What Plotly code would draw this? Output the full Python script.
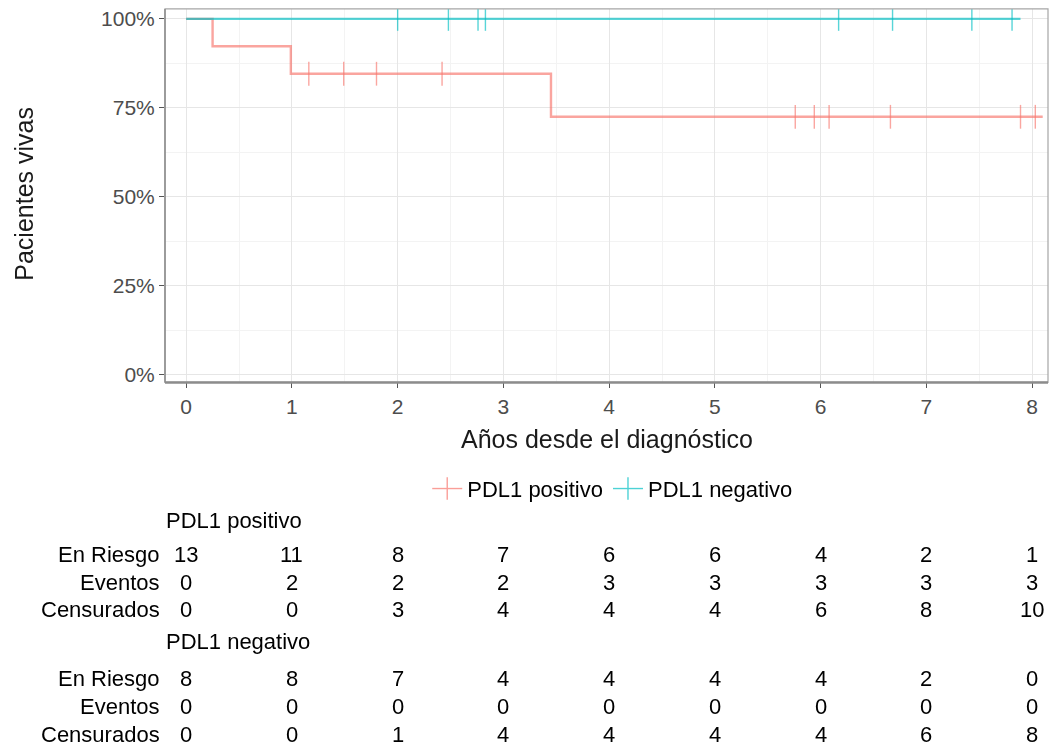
import plotly.graph_objects as go

# Kaplan-Meier step curves (time in years, survival proportion)
pos_times = [0.0, 0.25, 0.99, 3.45, 8.10]
pos_surv = [1.0, 0.923, 0.846, 0.725, 0.725]
neg_times = [0.0, 7.89]
neg_surv = [1.0, 1.0]

# Censoring times
pos_censor = [1.16, 1.49, 1.80, 2.42, 5.76, 5.94, 6.08, 6.66, 7.89, 8.03]
neg_censor = [2.00, 2.48, 2.76, 2.83, 6.17, 6.68, 7.43, 7.81]

# Risk table
table_times = [0, 1, 2, 3, 4, 5, 6, 7, 8]
pos_risk = [13, 11, 8, 7, 6, 6, 4, 2, 1]
pos_events = [0, 2, 2, 2, 3, 3, 3, 3, 3]
pos_cens = [0, 0, 3, 4, 4, 4, 6, 8, 10]
neg_risk = [8, 8, 7, 4, 4, 4, 4, 2, 0]
neg_events = [0, 0, 0, 0, 0, 0, 0, 0, 0]
neg_cens = [0, 0, 1, 4, 4, 4, 4, 6, 8]

group_names = ["PDL1 positivo", "PDL1 negativo"]
row_names = ["En Riesgo", "Eventos", "Censurados"]
y_ticks = [0, 0.25, 0.5, 0.75, 1.0]

RED = "#F8766D"
CYAN = "#00BFC4"
FONT = "Liberation Sans, Arial, sans-serif"
W, H = 1051, 751
TXT = 22


def step_value(times, surv, t):
    v = surv[0]
    for tt, s in zip(times, surv):
        if tt <= t:
            v = s
    return v


fig = go.Figure()

for name, times, surv, cens, col in [
    (group_names[0], pos_times, pos_surv, pos_censor, RED),
    (group_names[1], neg_times, neg_surv, neg_censor, CYAN),
]:
    fig.add_trace(go.Scatter(
        x=times, y=surv, mode="lines", line=dict(color=col, width=2.4, shape="hv"),
        opacity=0.65, showlegend=False, hoverinfo="skip"))
    fig.add_trace(go.Scatter(
        x=cens, y=[step_value(times, surv, c) for c in cens], mode="markers",
        marker=dict(symbol="line-ns", size=17, line=dict(color=col, width=1.4)),
        opacity=0.65, showlegend=False, hoverinfo="skip"))
    # legend entry: line with a cross marker
    fig.add_trace(go.Scatter(
        x=[None], y=[None], mode="lines+markers", name=name,
        line=dict(color=col, width=1.4),
        marker=dict(symbol="line-ns", size=17, line=dict(color=col, width=1.4)),
        opacity=0.7))

x0, x1 = 165 / W, 1048 / W
y0, y1 = 1 - 383 / H, 1 - 7 / H

fig.update_layout(
    width=W, height=H, margin=dict(l=0, r=0, t=0, b=0),
    paper_bgcolor="white", plot_bgcolor="white",
    font=dict(family=FONT, size=TXT, color="#000000"),
    xaxis=dict(
        domain=[x0, x1], range=[-0.2, 8.15], tickvals=table_times,
        ticks="outside", ticklen=5, tickcolor="#555555",
        tickfont=dict(size=21, color="#4D4D4D"),
        showgrid=True, gridcolor="#E6E6E6", gridwidth=1,
        minor=dict(dtick=0.5, tick0=0, showgrid=True, gridcolor="#F3F3F3", gridwidth=1),
        zeroline=False, showline=False,
    ),
    yaxis=dict(
        domain=[y0, y1], range=[-0.022, 1.028], tickvals=y_ticks,
        ticktext=[f"{int(v*100)}%" for v in y_ticks],
        ticks="outside", ticklen=5, tickcolor="#555555",
        tickfont=dict(size=21, color="#4D4D4D"),
        showgrid=True, gridcolor="#E6E6E6", gridwidth=1,
        minor=dict(dtick=0.125, tick0=0, showgrid=True, gridcolor="#F3F3F3", gridwidth=1),
        zeroline=False, showline=False,
    ),
    legend=dict(
        orientation="h", x=0.583, y=1 - 490 / H, xanchor="center", yanchor="middle",
        font=dict(size=TXT, color="#000000"), bgcolor="rgba(0,0,0,0)",
        itemwidth=30, tracegroupgap=0,
    ),
)

# panel border and bottom axis line
fig.add_shape(type="rect", xref="paper", yref="paper", x0=x0, x1=x1, y0=y0, y1=y1,
              line=dict(color="#A6A6A6", width=1.2), layer="above")
fig.add_shape(type="line", xref="paper", yref="paper", x0=x0, x1=x1, y0=y0, y1=y0,
              line=dict(color="#8C8C8C", width=2.5), layer="above")
fig.add_shape(type="line", xref="paper", yref="paper", x0=x0, x1=x0, y0=y0, y1=y1,
              line=dict(color="#8C8C8C", width=1.5), layer="above")

ann = []
# axis titles
ann.append(dict(text="Años desde el diagnóstico", xref="paper", yref="paper",
                x=(x0 + x1) / 2, y=1 - 440 / H, showarrow=False,
                font=dict(size=25, color="#1A1A1A"), xanchor="center", yanchor="middle"))
ann.append(dict(text="Pacientes vivas", xref="paper", yref="paper",
                x=24 / W, y=1 - 193 / H, showarrow=False, textangle=-90,
                font=dict(size=25, color="#1A1A1A"), xanchor="center", yanchor="middle"))

# risk table
blocks = [
    (group_names[0], [pos_risk, pos_events, pos_cens], 522, [556, 584, 612]),
    (group_names[1], [neg_risk, neg_events, neg_cens], 644, [681, 709, 737]),
]
for title, rows, ty, rys in blocks:
    ann.append(dict(text=title, xref="paper", yref="paper", x=164 / W, y=1 - ty / H,
                    showarrow=False, xanchor="left", yanchor="middle",
                    font=dict(size=TXT, color="#000000")))
    for rname, vals, ry in zip(row_names, rows, rys):
        ann.append(dict(text=rname, xref="paper", yref="paper", x=162 / W, y=1 - ry / H,
                        showarrow=False, xanchor="right", yanchor="middle",
                        font=dict(size=TXT, color="#000000")))
        for t, v in zip(table_times, vals):
            ann.append(dict(text=str(v), xref="x", yref="paper", x=t, y=1 - ry / H,
                            showarrow=False, xanchor="center", yanchor="middle",
                            font=dict(size=TXT, color="#000000")))

fig.update_layout(annotations=ann)
fig.write_html("out.html")
